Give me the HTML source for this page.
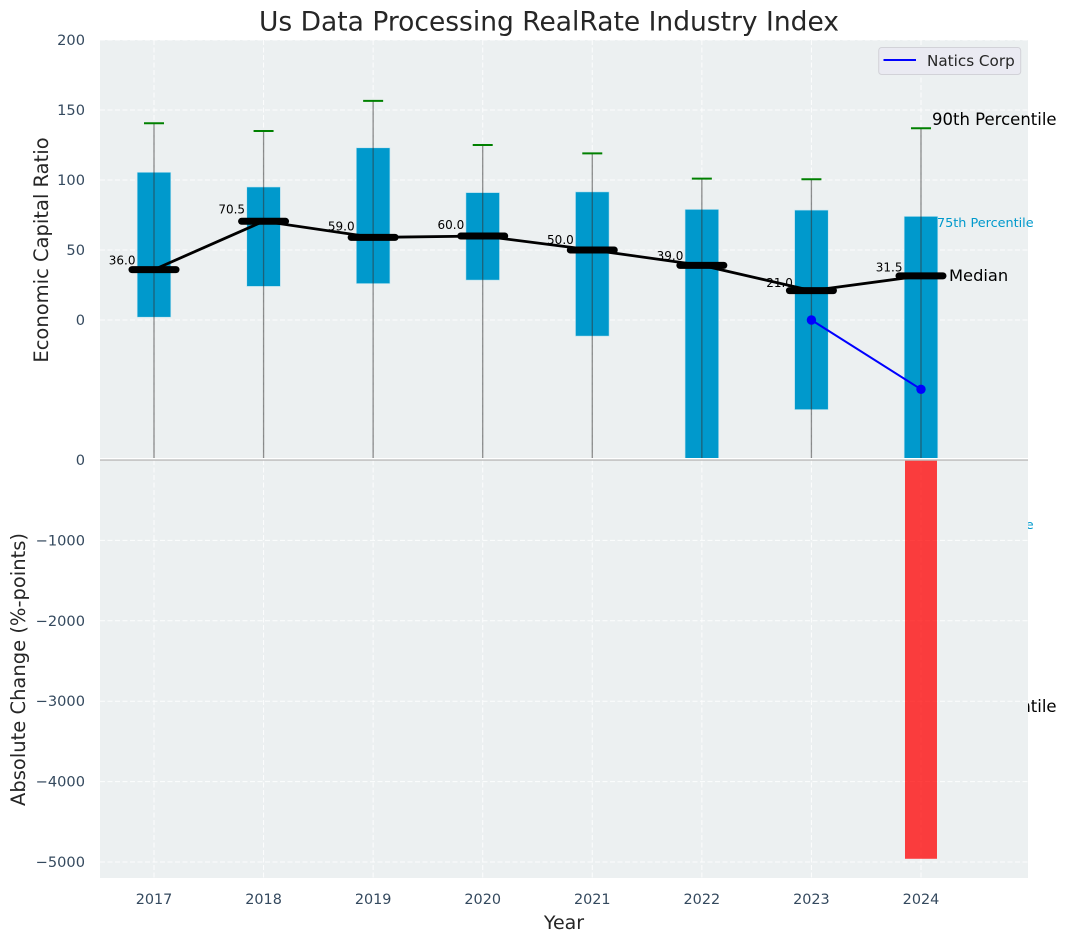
<!DOCTYPE html>
<html>
<head>
<meta charset="utf-8">
<style>
html,body{margin:0;padding:0;background:#fff;width:1067px;height:942px;overflow:hidden}
svg{display:block;font-family:"DejaVu Sans","Liberation Sans",sans-serif}
</style>
</head>
<body>
<svg id="chart" xmlns="http://www.w3.org/2000/svg" width="1067" height="942" viewBox="0 0 1067 942">
<defs><clipPath id="top-clip"><rect x="100" y="40" width="928" height="418"/></clipPath></defs>
</svg>
<script>
const years = [2017, 2018, 2019, 2020, 2021, 2022, 2023, 2024];
const p90 = [140.5, 135, 156.5, 125, 119, 101, 100.5, 137];
const p75 = [105.5, 95, 123, 91, 91.5, 79, 78.5, 74];
const medians = [36.0, 70.5, 59.0, 60.0, 50.0, 39.0, 21.0, 31.5];
const p25 = [2, 24, 26, 28.5, -11.5, -105, -64, -105];
const p10 = [-110, -110, -110, -110, -110, -110, -110, -110];
const companyYears = [2023, 2024];
const companyValues = [0, -49.5];
const changeYears = [2024];
const changeValues = [-4960];
const topTicks = [0, 50, 100, 150, 200];
const bottomTicks = [0, -1000, -2000, -3000, -4000, -5000];

const NS = 'http://www.w3.org/2000/svg';
const svg = document.getElementById('chart');
const X = y => 154 + (y - 2017) * 109.57;
const YT = v => 320 - v * 1.4;
const YB = v => 460 - v * 0.0804;
const L = 100, R = 1028, T = 40, M = 458, B = 878;
const fmtTick = v => String(v).replace('-', '\u2212');

function mk(tag, attrs, parent) {
  const e = document.createElementNS(NS, tag);
  for (const k in attrs) e.setAttribute(k, attrs[k]);
  (parent || svg).appendChild(e);
  return e;
}
function txt(str, attrs, parent) {
  const e = mk('text', attrs, parent);
  e.textContent = str;
  return e;
}
const dash = {stroke: '#ffffff', 'stroke-width': 1, 'stroke-dasharray': '5 2.5', 'stroke-opacity': 0.85};

// top axes
const topBg = mk('rect', {x: L, y: T, width: R - L, height: M - T, fill: '#ecf0f1'});



topTicks.forEach(v => {
  const g = mk('line', Object.assign({x1: L, x2: R, y1: YT(v), y2: YT(v)}, dash));
  
  
  const t = txt(fmtTick(v), {x: 85, y: YT(v) + 5, 'text-anchor': 'end', 'font-size': 14.6, fill: '#34495e'});
  
  
});

const plotTop = mk('g', {'clip-path': 'url(#top-clip)'});



years.forEach(y => {
  const g = mk('line', Object.assign({x1: X(y), x2: X(y), y1: T, y2: M}, dash), plotTop);
  
  
});

years.forEach((y, i) => {
  const b = mk('rect', {x: X(y) - 16.8, y: YT(p75[i]), width: 33.6, height: YT(p25[i]) - YT(p75[i]), fill: '#0099cc', stroke: '#bfe4f0', 'stroke-width': 0.6}, plotTop);
  
  
});
years.forEach((y, i) => {
  const w = mk('line', {x1: X(y), x2: X(y), y1: YT(p90[i]), y2: YT(p10[i]), stroke: '#333', 'stroke-opacity': 0.55, 'stroke-width': 1.3}, plotTop);
  
  
  const c = mk('line', {x1: X(y) - 10, x2: X(y) + 10, y1: YT(p90[i]), y2: YT(p90[i]), stroke: '#008000', 'stroke-width': 2}, plotTop);
  
  
});

const medLine = mk('polyline', {points: years.map((y, i) => X(y) + ',' + YT(medians[i])).join(' '), fill: 'none', stroke: '#000', 'stroke-width': 2.8}, plotTop);



years.forEach((y, i) => {
  const m = mk('line', {x1: X(y) - 22, x2: X(y) + 22, y1: YT(medians[i]), y2: YT(medians[i]), stroke: '#000', 'stroke-width': 7, 'stroke-linecap': 'round'}, plotTop);
  
  
  const t = txt(medians[i].toFixed(1), {x: X(y) - 18.5, y: YT(medians[i] * 1.06 + 4.5) + 4.3, 'text-anchor': 'end', 'font-size': 12, fill: '#000'});
  
  
});

const compLine = mk('polyline', {points: companyYears.map((y, i) => X(y) + ',' + YT(companyValues[i])).join(' '), fill: 'none', stroke: '#0000ff', 'stroke-width': 2}, plotTop);


companyYears.forEach((y, i) => {
  const p = mk('circle', {cx: X(y), cy: YT(companyValues[i]), r: 4.7, fill: '#0000ff'}, plotTop);
  
  
});

// annotations (the lower two sit behind the bottom axes background)
const a90 = txt('90th Percentile', {x: 932, y: 125, 'font-size': 16.5, fill: '#000'});


const a75 = txt('75th Percentile', {x: 937, y: 227, 'font-size': 12.8, fill: '#0099cc'});


const aMed = txt('Median', {x: 949, y: 281, 'font-size': 16.3, fill: '#000'});


const a25 = txt('25th Percentile', {x: 937, y: 529, 'font-size': 12.8, fill: '#0099cc'});


const a10 = txt('10th Percentile', {x: 932, y: 712, 'font-size': 16.5, fill: '#000'});



// bottom axes
const botBg = mk('rect', {x: L, y: 459, width: R - L, height: B - 459, fill: '#ecf0f1'});



bottomTicks.forEach(v => {
  if (v !== 0) {
    const g = mk('line', Object.assign({x1: L, x2: R, y1: YB(v), y2: YB(v)}, dash));
    
    
  }
  const t = txt(fmtTick(v), {x: 85, y: YB(v) + 5, 'text-anchor': 'end', 'font-size': 14.6, fill: '#34495e'});
  
  
});
years.forEach(y => {
  const g = mk('line', Object.assign({x1: X(y), x2: X(y), y1: 460, y2: B}, dash));
  
  
  const t = txt(String(y), {x: X(y), y: 904, 'text-anchor': 'middle', 'font-size': 14.4, fill: '#34495e'});
  
  
});

changeYears.forEach((y, i) => {
  const b = mk('rect', {x: X(y) - 16, y: YB(0), width: 32, height: YB(changeValues[i]) - YB(0), fill: '#ff0000', 'fill-opacity': 0.75});
  
  
});

const zero = mk('line', {x1: L, x2: R, y1: 460, y2: 460, stroke: '#bbbbbb', 'stroke-width': 1.4});


const sep = mk('line', {x1: L, x2: R, y1: 458.6, y2: 458.6, stroke: '#ffffff', 'stroke-width': 1.2});



// legend
const lg = mk('g', {});


const lgBox = mk('rect', {x: 878.7, y: 47.5, width: 142, height: 27, rx: 3, fill: '#eaeaf2', stroke: '#d2d2d8', 'stroke-width': 1}, lg);


const lgLine = mk('line', {x1: 883.5, x2: 916, y1: 60, y2: 60, stroke: '#0000ff', 'stroke-width': 2}, lg);


const lgText = txt('Natics Corp', {x: 927, y: 66, 'font-size': 15.2, fill: '#262626'}, lg);



// titles
const title = txt('Us Data Processing RealRate Industry Index', {x: 549, y: 30.5, 'text-anchor': 'middle', 'font-size': 26.5, fill: '#262626'});


const xTitle = txt('Year', {x: 564, y: 929, 'text-anchor': 'middle', 'font-size': 19, fill: '#262626'});


const yTop = txt('Economic Capital Ratio', {transform: 'translate(48,250) rotate(-90)', 'text-anchor': 'middle', 'font-size': 19.5, fill: '#262626'});


const yBot = txt('Absolute Change (%-points)', {transform: 'translate(25,669.5) rotate(-90)', 'text-anchor': 'middle', 'font-size': 19.5, fill: '#262626'});


</script>
</body>
</html>
